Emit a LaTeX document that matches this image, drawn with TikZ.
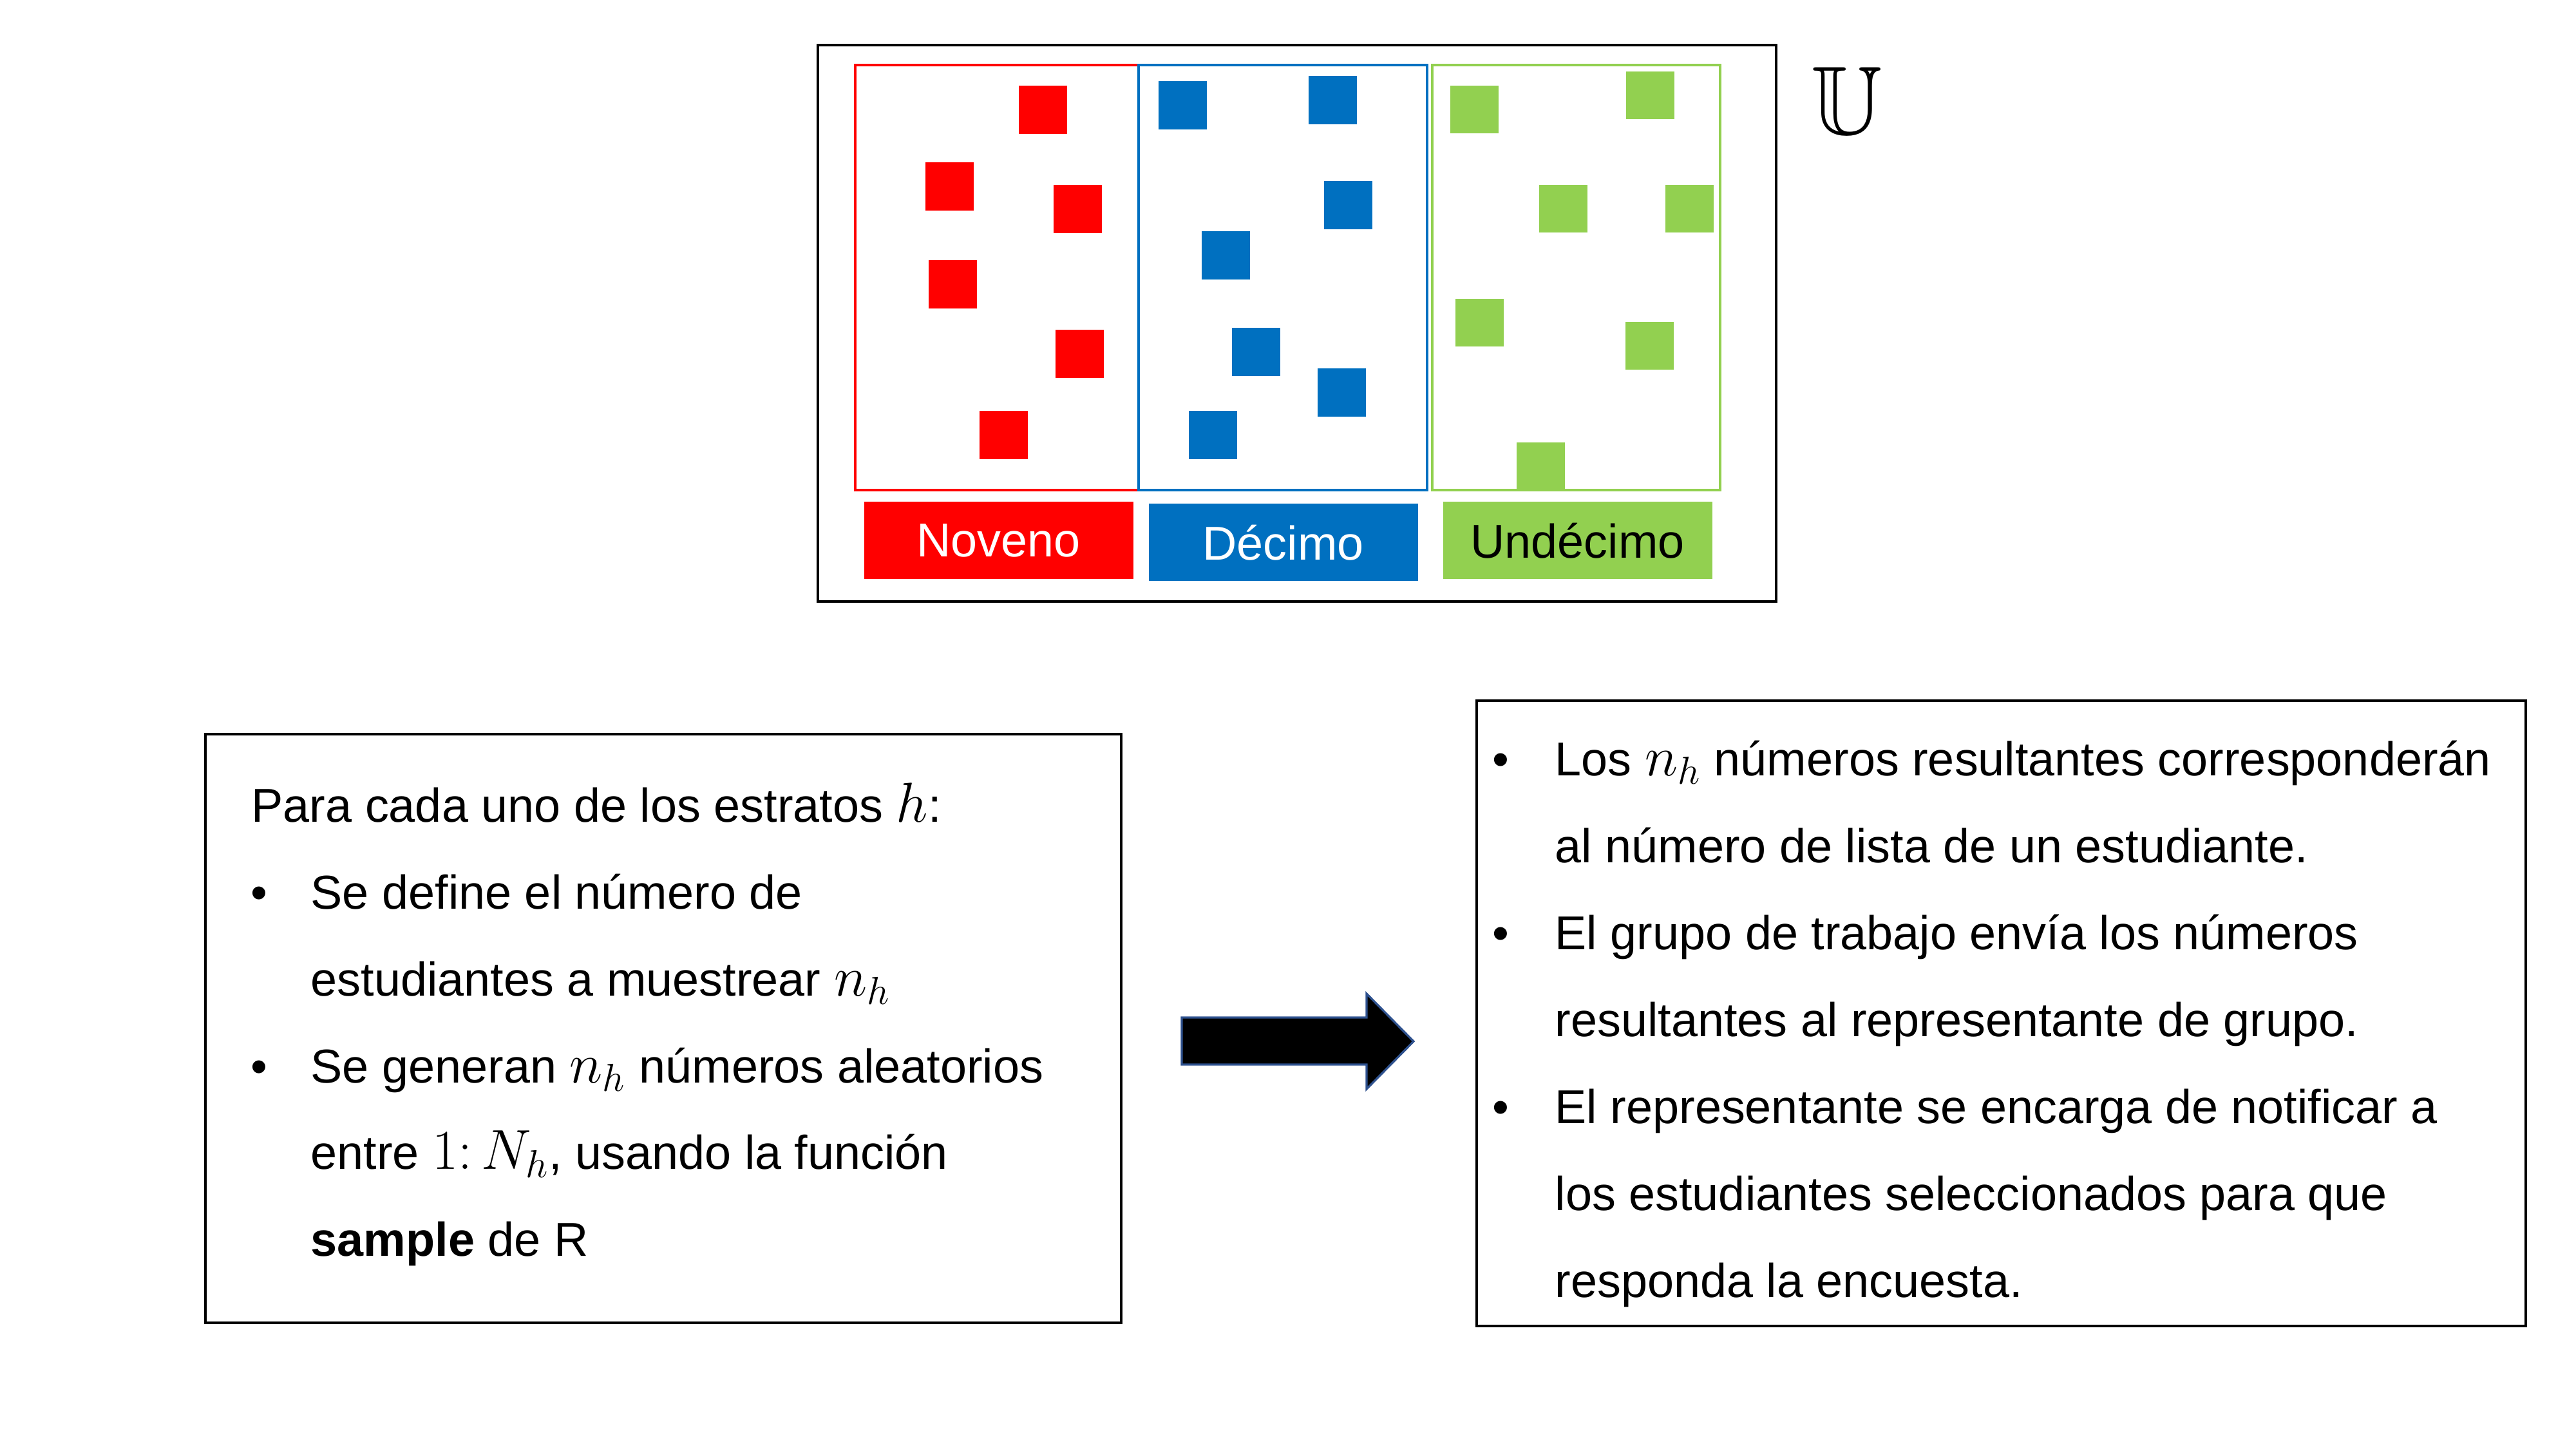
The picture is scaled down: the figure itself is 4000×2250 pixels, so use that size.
\documentclass[tikz,border=0pt]{standalone}
\usepackage{amssymb}
\usepackage{fontspec}
\setmainfont{Liberation Sans}
\definecolor{cred}{HTML}{FF0000}
\definecolor{cblue}{HTML}{0070C0}
\definecolor{cgreen}{HTML}{92D050}
\definecolor{arrowedge}{HTML}{2F528F}
\newcommand{\mymath}[1]{{\fontsize{24.5}{25}\selectfont$#1$}}
\tikzset{
  frame/.style={draw=black, line width=0.4mm, inner sep=0pt, outer sep=0pt},
  stratum/.style={draw=#1, line width=0.45mm, inner sep=0pt, outer sep=0pt,
    minimum width=4.44cm, minimum height=6.6cm},
  tag/.style={fill=#1, inner sep=0pt, outer sep=0pt, minimum width=4.18cm,
    minimum height=1.2cm, font=\fontsize{21}{25}\selectfont},
  txt/.style={anchor=base west, inner sep=0pt, font=\fontsize{21}{25}\selectfont},
  bul/.style={anchor=base, inner sep=0pt, font=\fontsize{21}{25}\selectfont},
}
\begin{document}
\begin{tikzpicture}[x=0.1mm, y=-0.1mm]
\useasboundingbox (0,0) rectangle (4000,2250);

% squares
\foreach \x/\y in {1582/133, 1437/252, 1636/287, 1442/404, 1639/512, 1521/638}
  \fill[cred] (\x,\y) rectangle ++(75,75);
\foreach \x/\y in {1799/126, 2032/118, 2056/281, 1866/359, 1913/509, 2046/572, 1846/638}
  \fill[cblue] (\x,\y) rectangle ++(75,75);
\foreach \x/\y in {2252/133, 2525/111, 2390/287, 2586/287, 2260/464, 2524/500, 2355/687}
  \fill[cgreen] (\x,\y) rectangle ++(75,74);

% outer frame
\node[frame, minimum width=14.88cm, minimum height=8.64cm] (universe) at (2014,502) {};
% strata
\node[stratum=cred, minimum width=4.40cm] (nbox) at (1548,431) {};
\node[stratum=cblue, minimum width=4.48cm] (dbox) at (1992,431) {};
\node[stratum=cgreen, minimum width=4.47cm] (ubox) at (2447.5,431) {};
% labels
\node[tag=cred, text=white] (nlab) at (1550.5,839.3) {Noveno};
\node[tag=cblue, text=white] (dlab) at (1992.5,842.3) {Décimo};
\node[tag=cgreen, text=black] (ulab) at (2449.5,839.3) {Undécimo};
% U symbol
\node[inner sep=0pt] (usym) at (2868,156) {\fontsize{43}{43}\selectfont$\mathbb{U}$};

% left box
\node[frame, minimum width=14.22cm, minimum height=9.14cm] (leftbox) at (1030,1597) {};
\node[txt] (l1) at (390,1276) {Para cada uno de los estratos \mymath{h}:};
\node[bul] (b1) at (402,1411) {•};
\node[txt] (l2) at (482,1411) {Se define el número de};
\node[txt] (l3) at (482,1546) {estudiantes a muestrear \mymath{n_h}};
\node[bul] (b2) at (402,1681) {•};
\node[txt] (l4) at (482,1681) {Se generan \mymath{n_h} números aleatorios};
\node[txt] (l5) at (482,1815) {entre \mymath{1{:}\,N_h}, usando la función};
\node[txt] (l6) at (482,1950) {\textbf{sample} de R};

% right box
\node[frame, minimum width=16.29cm, minimum height=9.71cm] (rightbox) at (3107.5,1573.5) {};
\node[bul] (rb1) at (2330,1204) {•};
\node[txt] (r1) at (2414,1204) {Los \mymath{n_h} números resultantes corresponderán};
\node[txt] (r2) at (2414,1339) {al número de lista de un estudiante.};
\node[bul] (rb2) at (2330,1474) {•};
\node[txt] (r3) at (2414,1474) {El grupo de trabajo envía los números};
\node[txt] (r4) at (2414,1609) {resultantes al representante de grupo.};
\node[bul] (rb3) at (2330,1744) {•};
\node[txt] (r5) at (2414,1744) {El representante se encarga de notificar a};
\node[txt] (r6) at (2414,1879) {los estudiantes seleccionados para que};
\node[txt] (r7) at (2414,2014) {responda la encuesta.};

% arrow
\draw[fill=black, draw=arrowedge, line width=0.33mm, line join=miter]
  (1835,1580) -- (2122,1580) -- (2122,1543) -- (2195,1617) -- (2122,1691)
  -- (2122,1653) -- (1835,1653) -- cycle;
\end{tikzpicture}
\end{document}
